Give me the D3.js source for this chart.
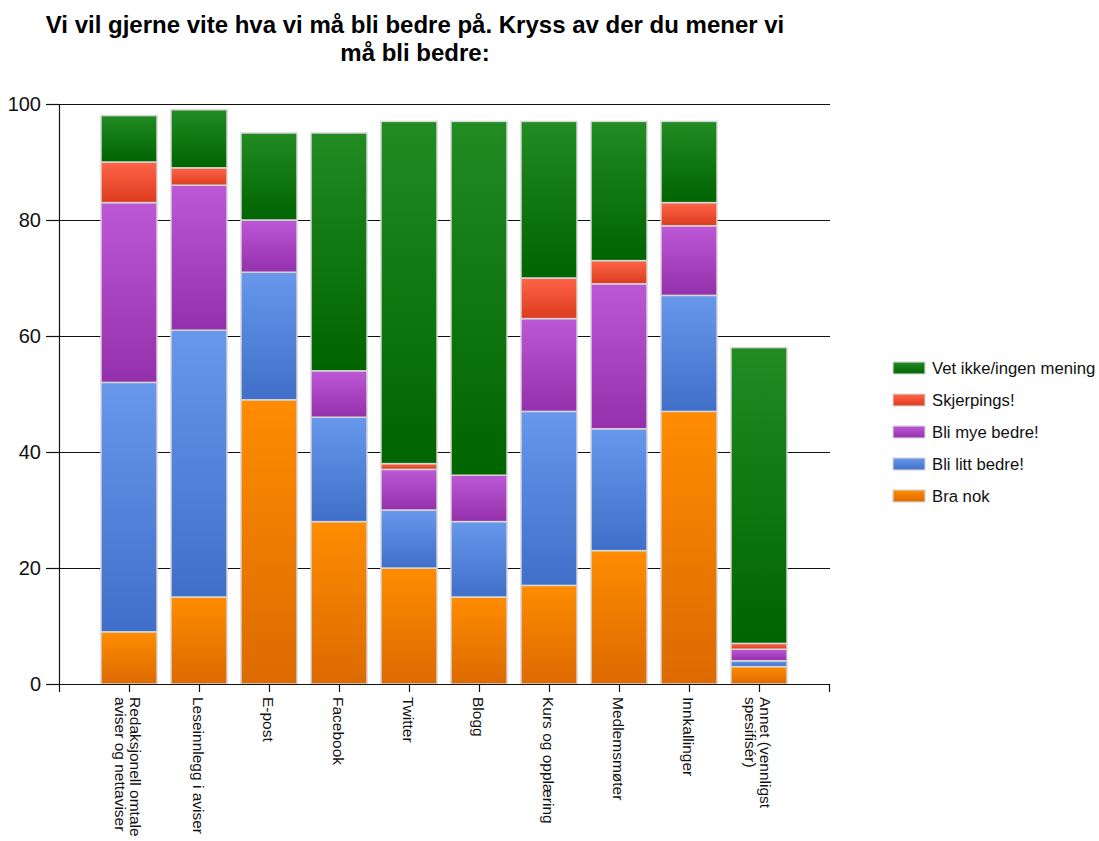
<!DOCTYPE html>
<html>
<head>
<meta charset="utf-8">
<script src="https://cdn.jsdelivr.net/npm/d3@7"></script>
<style>
  html, body { margin: 0; padding: 0; background: #fff; }
  svg { display: block; }
</style>
</head>
<body>
<svg id="chart" width="1099" height="841"></svg>
<script>
// ---- Data ----
const titleLines = ["Vi vil gjerne vite hva vi må bli bedre på. Kryss av der du mener vi", "må bli bedre:"];
const categories = [
  "Redaksjonell omtale\naviser og nettaviser",
  "Leseinnlegg i aviser",
  "E-post",
  "Facebook",
  "Twitter",
  "Blogg",
  "Kurs og opplæring",
  "Medlemsmøter",
  "Innkallinger",
  "Annet (vennligst\nspesifisér)"
];
const seriesNames = ["Bra nok", "Bli litt bedre!", "Bli mye bedre!", "Skjerpings!", "Vet ikke/ingen mening"];
const braNok      = [ 9, 15, 49, 28, 20, 15, 17, 23, 47,  3];
const bliLitt     = [43, 46, 22, 18, 10, 13, 30, 21, 20,  1];
const bliMye      = [31, 25,  9,  8,  7,  8, 16, 25, 12,  2];
const skjerpings  = [ 7,  3,  0,  0,  1,  0,  7,  4,  4,  1];
const vetIkke     = [ 8, 10, 15, 41, 59, 61, 27, 24, 14, 51];
const yTicks = [0, 20, 40, 60, 80, 100];

// ---- Styles ----
const colors = {
  "Bra nok":               ["#ff8c00", "#dc6a00"],
  "Bli litt bedre!":       ["#6898ec", "#3f6fc8"],
  "Bli mye bedre!":        ["#bc58d6", "#9530ac"],
  "Skjerpings!":           ["#ff6448", "#dc3c1e"],
  "Vet ikke/ingen mening": ["#228b22", "#006400"]
};
const seriesValues = [braNok, bliLitt, bliMye, skjerpings, vetIkke];

const svg = d3.select("#chart");
const FONT = "'Liberation Sans', Arial, sans-serif";

// gradients
const defs = svg.append("defs");
seriesNames.forEach((s, i) => {
  const g = defs.append("linearGradient").attr("id", "grad" + i)
    .attr("x1", 0).attr("y1", 0).attr("x2", 0).attr("y2", 1);
  g.append("stop").attr("offset", "0%").attr("stop-color", colors[s][0]);
  g.append("stop").attr("offset", "100%").attr("stop-color", colors[s][1]);
});

// scales
const x = d3.scalePoint().domain(categories).range([59, 829]).padding(1);
const y = d3.scaleLinear().domain([0, 100]).range([684, 104]);
const barW = 56;

// title
svg.append("text")
  .attr("x", 415).attr("y", 33)
  .attr("text-anchor", "middle")
  .style("font-family", FONT).style("font-weight", "bold").style("font-size", "24px")
  .style("fill", "#000")
  .selectAll("tspan").data(titleLines).join("tspan")
  .attr("x", 415).attr("dy", (d, i) => i === 0 ? 0 : 28)
  .text(d => d);

// gridlines
svg.append("g").selectAll("line").data(yTicks).join("line")
  .attr("x1", 59).attr("x2", 830)
  .attr("y1", d => y(d) + 0.5).attr("y2", d => y(d) + 0.5)
  .attr("stroke", "#111").attr("stroke-width", 1.2);

// stacked data
const table = categories.map((c, i) => {
  const o = { cat: c };
  seriesNames.forEach((s, j) => o[s] = seriesValues[j][i]);
  return o;
});
const stacked = d3.stack().keys(seriesNames)(table);

svg.append("g").selectAll("g").data(stacked).join("g")
  .attr("fill", (d, i) => `url(#grad${i})`)
  .selectAll("rect").data(d => d.filter(p => p[1] - p[0] > 0)).join("rect")
  .attr("x", d => x(d.data.cat) - barW / 2)
  .attr("width", barW)
  .attr("y", d => y(d[1]))
  .attr("height", d => y(d[0]) - y(d[1]))
  .attr("stroke", "#d6d6d6").attr("stroke-width", 1.5);

// y axis
const yAxis = svg.append("g").attr("transform", "translate(59,0)")
  .call(d3.axisLeft(y).tickValues(yTicks).tickSize(13).tickSizeOuter(0).tickPadding(5));
yAxis.selectAll("text").style("font-family", FONT).style("font-size", "20px").style("fill", "#111");
yAxis.selectAll("line, path").attr("stroke", "#111").attr("stroke-width", 1.2);

// x axis
const xAxis = svg.append("g").attr("transform", "translate(0,684)")
  .call(d3.axisBottom(x).tickSize(8).tickSizeOuter(8).tickFormat(""));
xAxis.selectAll("line, path").attr("stroke", "#111").attr("stroke-width", 1.2);

// x labels rotated
const lineH = 15;
const labels = svg.append("g").selectAll("text").data(categories).join("text")
  .attr("transform", d => `translate(${x(d) - 1},697) rotate(90)`)
  .style("font-family", FONT).style("font-size", "15.5px").style("fill", "#111");
labels.each(function(d) {
  const lines = d.split("\n");
  const n = lines.length;
  d3.select(this).selectAll("tspan").data(lines).join("tspan")
    .attr("x", 0)
    .attr("y", (l, i) => (i - (n - 1) / 2) * lineH)
    .attr("dy", "0.35em")
    .text(l => l);
});

// legend
const legendOrder = seriesNames.slice().reverse();
const leg = svg.append("g").selectAll("g").data(legendOrder).join("g")
  .attr("transform", (d, i) => `translate(893,${362 + i * 32})`);
leg.append("rect").attr("width", 32).attr("height", 12)
  .attr("fill", d => `url(#grad${seriesNames.indexOf(d)})`)
  .attr("stroke", "#d6d6d6").attr("stroke-width", 1.2);
leg.append("text").attr("x", 39).attr("y", 6).attr("dy", "0.35em")
  .style("font-family", FONT).style("font-size", "16.7px").style("fill", "#111")
  .text(d => d);
</script>
</body>
</html>
